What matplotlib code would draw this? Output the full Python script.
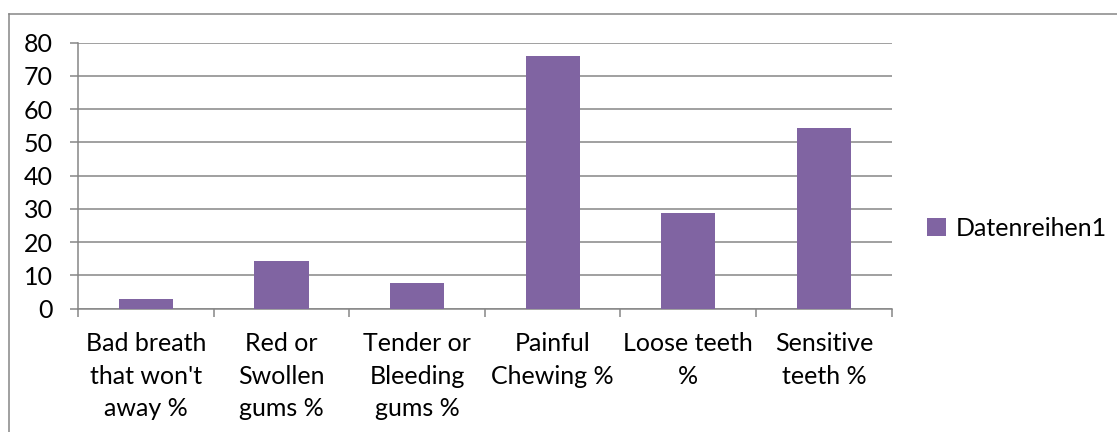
import numpy as np
import matplotlib
matplotlib.use("Agg")
import matplotlib.pyplot as plt
from matplotlib.lines import Line2D
from matplotlib.patches import Patch

# -------------------------------------------------
# Data
# -------------------------------------------------

categories = [
    "Bad breath\nthat won't\naway %",
    "Red or\nSwollen\ngums %",
    "Tender or\nBleeding\ngums %",
    "Painful\nChewing %",
    "Loose teeth\n%",
    "Sensitive\nteeth %",
]
values = [3, 14.4, 7.8, 76, 28.9, 54.4]
series_name = "Datenreihen1"
y_ticks = [0, 10, 20, 30, 40, 50, 60, 70, 80]

bar_color = "#8064A2"
grid_color = "#868686"

plt.rcParams["font.family"] = ["Lato", "DejaVu Sans"]
font_size = 18

# -------------------------------------------------
# Plot
# -------------------------------------------------

fig = plt.figure(figsize=(11.17, 4.32), dpi=100)
ax = fig.add_axes([0.0698, 0.2854, 0.7285, 0.6158])

x = np.arange(len(categories))
ax.bar(x, values, width=0.4, color=bar_color, zorder=3)

ax.set_xlim(-0.5, len(categories) - 0.5)
ax.set_ylim(0, 80)

ax.set_yticks(y_ticks)
ax.set_yticklabels([str(t) for t in y_ticks], fontsize=font_size)
ax.yaxis.grid(True, color=grid_color, linewidth=1.1, zorder=0)

# category boundary ticks, labels centred in between
ax.set_xticks(np.arange(len(categories) + 1) - 0.5)
ax.set_xticklabels([])
ax.set_xticks(x, minor=True)
ax.set_xticklabels(categories, minor=True, fontsize=font_size, linespacing=1.5)
ax.tick_params(axis="x", which="minor", length=0, pad=17)
ax.tick_params(axis="x", which="major", length=6, width=1.1, color=grid_color)
ax.tick_params(axis="y", length=6, width=1.1, color=grid_color, pad=12)

for side in ["top", "right"]:
    ax.spines[side].set_visible(False)
for side in ["left", "bottom"]:
    ax.spines[side].set_color(grid_color)
    ax.spines[side].set_linewidth(1.1)

handles = [Patch(facecolor=bar_color, edgecolor="none")]
fig.legend(
    handles, [series_name],
    loc="center left",
    bbox_to_anchor=(0.810, 0.472),
    frameon=False,
    fontsize=font_size,
    handlelength=0.75,
    handleheight=0.75,
    handletextpad=0.4,
)

# outer chart frame (runs off the right and bottom edges)
fig.add_artist(Line2D([8.5 / 1117, 1.0], [1 - 13.5 / 432] * 2,
                      transform=fig.transFigure, color=grid_color, linewidth=1.1))
fig.add_artist(Line2D([8.5 / 1117] * 2, [0.0, 1 - 13.5 / 432],
                      transform=fig.transFigure, color=grid_color, linewidth=1.1))

fig.savefig("out.png", dpi=100)
